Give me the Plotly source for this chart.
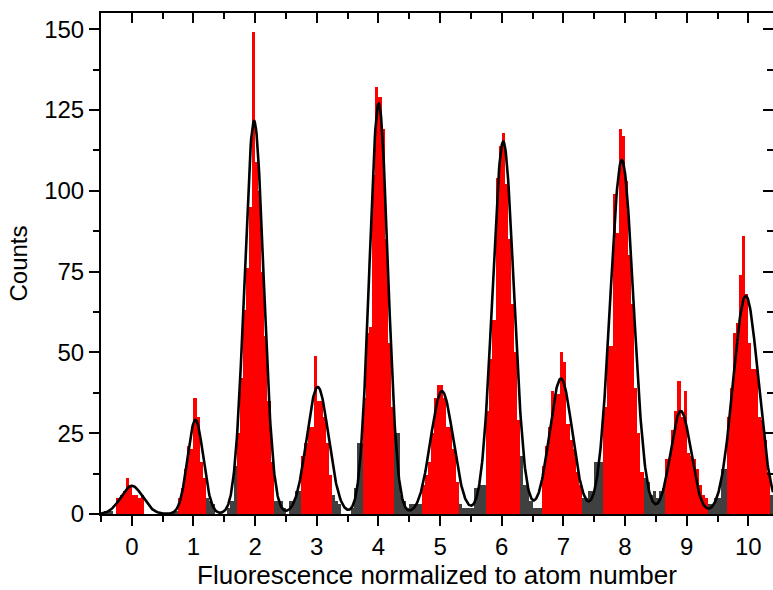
import numpy as np
import plotly.graph_objects as go

# ---------------- data ----------------
bin_start = -0.5
bin_width = 0.05

# histogram counts, one list per unit interval [n-0.5, n+0.5) (bins are consecutive)
counts_n0 = [0, 1, 1, 1, 0, 5, 6, 7, 11, 9, 6, 6, 5, 6, 0, 0, 0, 0, 0, 0]
counts_n1 = [0, 0, 0, 1, 1, 5, 8, 14, 21, 20, 36, 30, 16, 11, 5, 4, 3, 0, 0, 0]
counts_n2 = [0, 2, 4, 15, 25, 42, 63, 76, 95, 149, 109, 100, 75, 55, 35, 16, 4, 4, 4, 2]
counts_n3 = [0, 4, 4, 7, 7, 18, 22, 27, 27, 49, 35, 35, 30, 22, 12, 6, 4, 3, 0, 0]
counts_n4 = [0, 2, 8, 22, 22, 36, 56, 58, 105, 132, 129, 119, 85, 53, 33, 25, 25, 6, 4, 2]
counts_n5 = [3, 3, 3, 3, 9, 12, 16, 25, 36, 40, 40, 36, 27, 27, 20, 10, 3, 2, 2, 2]
counts_n6 = [2, 8, 8, 9, 9, 32, 48, 60, 104, 114, 118, 102, 85, 65, 50, 29, 18, 9, 9, 4]
counts_n7 = [2, 2, 2, 15, 21, 27, 38, 37, 37, 50, 47, 28, 23, 20, 13, 9, 5, 5, 7, 7]
counts_n8 = [16, 16, 16, 33, 52, 52, 99, 87, 119, 117, 103, 80, 65, 39, 25, 13, 11, 10, 6, 7]
counts_n9 = [5, 7, 8, 17, 17, 26, 32, 41, 30, 38, 19, 18, 17, 14, 9, 6, 5, 3, 3, 5]
counts_n10 = [5, 14, 14, 30, 39, 56, 59, 74, 86, 68, 53, 45, 45, 30, 29, 23, 13, 6]

# windows (in fluorescence units) whose bins are drawn red
red_start = [-0.25, 0.75, 1.70, 2.75, 3.75, 4.70, 5.75, 6.65, 7.65, 8.65, 9.65]
red_end = [0.20, 1.20, 2.30, 3.25, 4.25, 5.30, 6.30, 7.30, 8.30, 9.35, 10.35]

# multi-Gaussian fit parameters
fit_center = [0.0, 1.032, 1.983, 3.015, 4.004, 5.03, 6.024, 6.96, 7.948, 8.904, 9.958]
fit_amp = [8.7, 29.1, 121.6, 39.3, 127.0, 38.0, 115.2, 41.9, 109.5, 31.9, 67.5]
fit_sigma = [0.177, 0.126, 0.154, 0.177, 0.149, 0.184, 0.172, 0.184, 0.188, 0.165, 0.206]

x_tick_vals = list(range(0, 11))
y_tick_vals = [0, 25, 50, 75, 100, 125, 150]

# ---------------- build ----------------
counts = (counts_n0 + counts_n1 + counts_n2 + counts_n3 + counts_n4 + counts_n5
          + counts_n6 + counts_n7 + counts_n8 + counts_n9 + counts_n10)
centers = bin_start + bin_width * (np.arange(len(counts)) + 0.5)

RED = "#ff0000"
GRAY = "#404040"
colors = []
for c in centers:
    is_red = any(lo < c < hi for lo, hi in zip(red_start, red_end))
    colors.append(RED if is_red else GRAY)

xf = np.linspace(-0.5, 10.4, 1500)
yf = np.zeros_like(xf)
for c0, a, s in zip(fit_center, fit_amp, fit_sigma):
    yf += a * np.exp(-((xf - c0) ** 2) / (2 * s ** 2))

FONT = "Liberation Sans, Arial, sans-serif"

fig = go.Figure()
fig.add_trace(go.Bar(x=centers, y=counts, width=bin_width,
                     marker=dict(color=colors, line=dict(width=0)),
                     showlegend=False, hoverinfo="x+y"))
fig.add_trace(go.Scatter(x=xf, y=yf, mode="lines",
                         line=dict(color="black", width=2.6),
                         showlegend=False, hoverinfo="skip"))
# empty trace to carry the mirrored (inside-tick) top/right axes
fig.add_trace(go.Scatter(x=[], y=[], xaxis="x2", yaxis="y2", showlegend=False))

XR = [-0.5, 10.4]
YR = [0, 155]
axis_common = dict(showline=True, linecolor="black", linewidth=2,
                   showgrid=False, zeroline=False, tickcolor="black",
                   tickwidth=2)

fig.update_layout(
    width=773, height=590,
    margin=dict(l=101, r=0, t=13, b=76),
    paper_bgcolor="white", plot_bgcolor="white",
    bargap=0,
    font=dict(family=FONT, size=24, color="black"),
    xaxis=dict(range=XR, tickvals=x_tick_vals, ticks="outside", ticklen=10,
               minor=dict(dtick=0.5, tick0=0, ticks="outside", ticklen=6,
                          tickwidth=2, tickcolor="black"),
               tickfont=dict(size=24),
               title=dict(text="Fluorescence normalized to atom number",
                          font=dict(size=26), standoff=8),
               **axis_common),
    yaxis=dict(range=YR, tickvals=y_tick_vals, ticks="outside", ticklen=10,
               minor=dict(dtick=12.5, tick0=0, ticks="outside", ticklen=6,
                          tickwidth=2, tickcolor="black"),
               tickfont=dict(size=24),
               title=dict(text="Counts", font=dict(size=24), standoff=10),
               **axis_common),
    xaxis2=dict(range=XR, overlaying="x", side="top", anchor="y",
                tickvals=x_tick_vals, ticks="inside", ticklen=10,
                showticklabels=False,
                minor=dict(dtick=0.5, tick0=0, ticks="inside", ticklen=6,
                           tickwidth=2, tickcolor="black"),
                **axis_common),
    yaxis2=dict(range=YR, overlaying="y", side="right", anchor="x",
                tickvals=y_tick_vals, ticks="inside", ticklen=10,
                showticklabels=False,
                minor=dict(dtick=12.5, tick0=0, ticks="inside", ticklen=6,
                           tickwidth=2, tickcolor="black"),
                **axis_common),
)

fig.write_html(
    "out.html",
    config={"displayModeBar": False},
    post_script="document.body.style.margin='0';document.body.style.overflow='hidden';",
)
